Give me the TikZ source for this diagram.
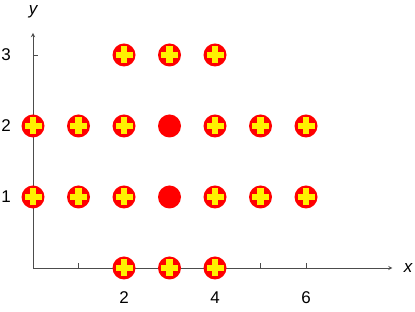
\documentclass[tikz,border=0pt]{standalone}
\usepackage{fontspec}
\setmainfont{Liberation Sans}
\tikzset{
  axis/.style={draw=black!70,line width=.9pt},
  dot/.style={circle,fill=red,minimum size=23pt,inner sep=0pt},
  plusdot/.style={dot,path picture={
    \fill[yellow] (path picture bounding box.center) ++(-8.5pt,-3.3pt) rectangle ++(17pt,6.6pt);
    \fill[yellow] (path picture bounding box.center) ++(-3.3pt,-8.5pt) rectangle ++(6.6pt,17pt);}},
  lbl/.style={font=\fontsize{17}{19}\selectfont}
}
\begin{document}
\begin{tikzpicture}[x=45.5pt,y=71pt,>=stealth]
\useasboundingbox (-33pt,-44pt) rectangle (382pt,268pt);
\coordinate (O) at (0,0);
\coordinate (xend) at (7.9,0);
\coordinate (yend) at (0,3.31);
\draw[axis,->] (O)--(xend);
\draw[axis,->] (O)--(yend);
\foreach \i in {1,...,6}{\draw[axis] (\i,0)--++(0,5pt);}
\foreach \j in {1,2,3}{\draw[axis] (0,\j)--++(5pt,0);}
\node[lbl,font=\fontsize{17}{19}\selectfont\itshape] (xlab) at (375pt,0) {x};
\node[lbl,font=\fontsize{17}{19}\selectfont\itshape] (ylab) at (0,256pt) {y};
\foreach \j in {1,2,3}{\node[lbl] (ly\j) at (-27pt,\j) {\j};}
\foreach \i in {2,4,6}{\node[lbl] (lx\i) at (\i,-30pt) {\i};}
% points
\foreach \i in {2,3,4}{\node[plusdot] (p\i-0) at (\i,0) {}; \node[plusdot] (p\i-3) at (\i,3) {};}
\foreach \i in {0,1,2,4,5,6}{\node[plusdot] (p\i-1) at (\i,1) {}; \node[plusdot] (p\i-2) at (\i,2) {};}
\node[dot] (p3-1) at (3,1) {}; \node[dot] (p3-2) at (3,2) {};
\end{tikzpicture}
\end{document}
